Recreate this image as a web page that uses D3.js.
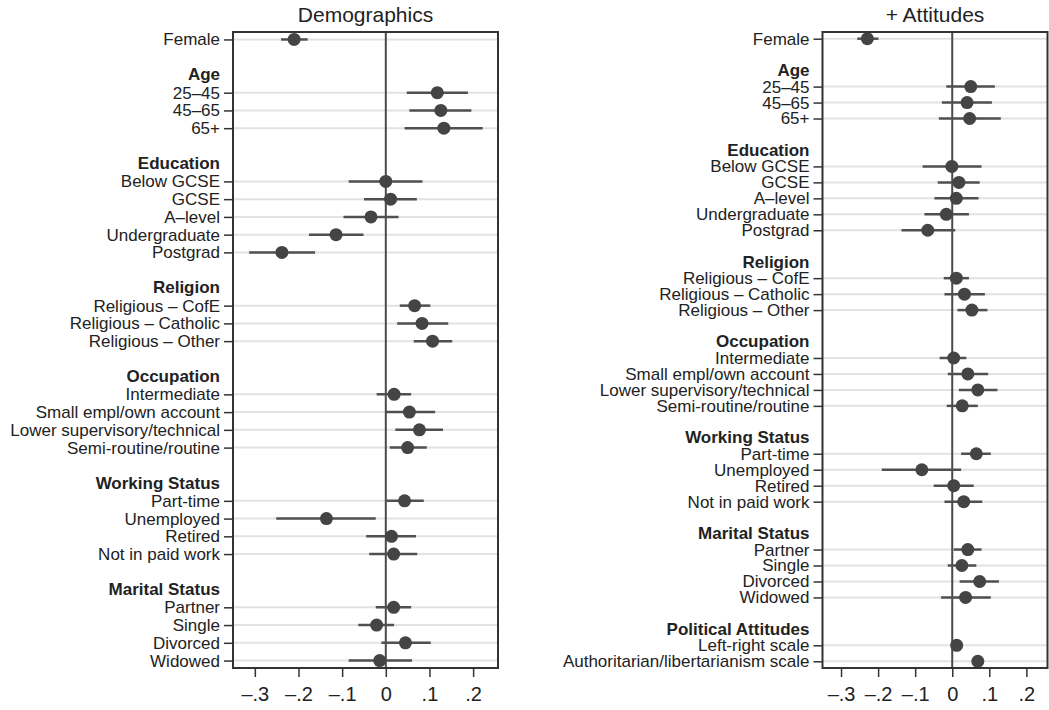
<!DOCTYPE html>
<html>
<head>
<meta charset="utf-8">
<script src="https://cdn.jsdelivr.net/npm/d3@7"></script>
<style>
  body { margin: 0; background: #fff; }
  svg { display: block; font-family: "Liberation Sans", Arial, sans-serif; }
</style>
</head>
<body>
<div id="chart"></div>
<script>
var width = 1049;
var height = 710;

// group headings (first group has no heading) and the variables in each group
const groupTitles = [null, "Age", "Education", "Religion", "Occupation", "Working Status", "Marital Status", "Political Attitudes"];
const groupVars = [
    ["Female"],
    ["25–45", "45–65", "65+"],
    ["Below GCSE", "GCSE", "A–level", "Undergraduate", "Postgrad"],
    ["Religious – CofE", "Religious – Catholic", "Religious – Other"],
    ["Intermediate", "Small empl/own account", "Lower supervisory/technical", "Semi-routine/routine"],
    ["Part-time", "Unemployed", "Retired", "Not in paid work"],
    ["Partner", "Single", "Divorced", "Widowed"],
    ["Left-right scale", "Authoritarian/libertarianism scale"]
];

// Demographics model: estimate, lower and upper CI (24 variables)
const demoEst = [-0.210, 0.118, 0.126, 0.133, 0.000, 0.011, -0.034, -0.114, -0.238, 0.066, 0.083, 0.107,
    0.019, 0.054, 0.077, 0.050, 0.043, -0.136, 0.013, 0.018, 0.018, -0.021, 0.045, -0.014];
const demoLo = [-0.240, 0.048, 0.054, 0.043, -0.085, -0.050, -0.097, -0.176, -0.313, 0.032, 0.026, 0.064,
    -0.021, 0.000, 0.022, 0.009, 0.002, -0.251, -0.045, -0.038, -0.023, -0.063, -0.010, -0.085];
const demoHi = [-0.179, 0.188, 0.196, 0.222, 0.084, 0.071, 0.029, -0.051, -0.162, 0.102, 0.143, 0.152,
    0.058, 0.113, 0.131, 0.094, 0.087, -0.023, 0.069, 0.072, 0.058, 0.019, 0.103, 0.060];

// + Attitudes model (26 variables)
const attEst = [-0.229, 0.050, 0.040, 0.047, -0.001, 0.018, 0.011, -0.016, -0.066, 0.011, 0.033, 0.053,
    0.004, 0.042, 0.069, 0.027, 0.065, -0.082, 0.004, 0.031, 0.042, 0.026, 0.074, 0.036, 0.012, 0.069];
const attLo = [-0.256, -0.016, -0.028, -0.036, -0.080, -0.039, -0.048, -0.075, -0.137, -0.023, -0.021, 0.014,
    -0.034, -0.012, 0.018, -0.015, 0.024, -0.190, -0.050, -0.021, 0.004, -0.012, 0.020, -0.030, 0.004, 0.060];
const attHi = [-0.199, 0.115, 0.107, 0.131, 0.079, 0.074, 0.071, 0.045, 0.008, 0.045, 0.088, 0.095,
    0.038, 0.097, 0.122, 0.069, 0.104, 0.024, 0.058, 0.081, 0.079, 0.065, 0.126, 0.104, 0.020, 0.078];

const xTicks = [-0.3, -0.2, -0.1, 0, 0.1, 0.2];

var svg = d3.select("#chart").append("svg")
    .attr("width", width)
    .attr("height", height);

// turn the groups into a list of rows: variables, headings and blank gaps
function buildRows(nGroups, est, lo, hi) {
    var rows = [];
    var k = 0;
    for (var i = 0; i < nGroups; i++) {
        if (groupTitles[i]) {
            rows.push({ type: "blank" });
            rows.push({ type: "header", label: groupTitles[i] });
        }
        groupVars[i].forEach(function (v) {
            rows.push({ type: "var", label: v, est: est[k], lo: lo[k], hi: hi[k] });
            k++;
        });
    }
    rows.forEach(function (r, i) { r.i = i; });
    return rows;
}

function drawPanel(title, rows, x0, x1) {
    var top = 32, bottom = 668;
    var g = svg.append("g");

    var x = d3.scaleLinear().domain([-0.35, 0.257]).range([x0, x1]);
    var y = d3.scalePoint()
        .domain(d3.range(rows.length))
        .range([top, bottom])
        .padding(0.42);

    var vars = rows.filter(function (d) { return d.type == "var"; });

    //gridlines
    g.selectAll(".grid")
        .data(vars).enter()
        .append("line")
        .attr("x1", x0).attr("x2", x1)
        .attr("y1", function (d) { return y(d.i); })
        .attr("y2", function (d) { return y(d.i); })
        .style("stroke", "#e2e2e2")
        .style("stroke-width", 2);

    //zero line
    g.append("line")
        .attr("x1", x(0)).attr("x2", x(0))
        .attr("y1", top).attr("y2", bottom)
        .style("stroke", "#4a4a4a")
        .style("stroke-width", 2);

    //confidence intervals
    g.selectAll(".ci")
        .data(vars).enter()
        .append("line")
        .attr("x1", function (d) { return x(d.lo); })
        .attr("x2", function (d) { return x(d.hi); })
        .attr("y1", function (d) { return y(d.i); })
        .attr("y2", function (d) { return y(d.i); })
        .style("stroke", "#505050")
        .style("stroke-width", 2.5);

    //point estimates
    g.selectAll(".dot")
        .data(vars).enter()
        .append("circle")
        .attr("cx", function (d) { return x(d.est); })
        .attr("cy", function (d) { return y(d.i); })
        .attr("r", 6.5)
        .style("fill", "#444");

    //frame
    g.append("rect")
        .attr("x", x0).attr("y", top)
        .attr("width", x1 - x0).attr("height", bottom - top)
        .style("fill", "none")
        .style("stroke", "#333")
        .style("stroke-width", 2);

    //y axis with variable labels
    var yAxis = g.append("g")
        .attr("transform", "translate(" + x0 + ",0)")
        .call(d3.axisLeft(y)
            .tickValues(vars.map(function (d) { return d.i; }))
            .tickFormat(function (i) { return rows[i].label; })
            .tickSize(9)
            .tickPadding(4));
    yAxis.select(".domain").remove();
    yAxis.selectAll("line").style("stroke", "#333").style("stroke-width", 1.5);
    yAxis.selectAll("text")
        .style("font-family", "Liberation Sans, Arial, sans-serif")
        .style("font-size", "17px")
        .style("fill", "#222");

    //group headings
    g.selectAll(".header")
        .data(rows.filter(function (d) { return d.type == "header"; })).enter()
        .append("text")
        .attr("x", x0 - 13)
        .attr("y", function (d) { return y(d.i); })
        .attr("dy", "0.32em")
        .style("text-anchor", "end")
        .style("font-size", "17px")
        .style("font-weight", "bold")
        .style("fill", "#222")
        .text(function (d) { return d.label; });

    //x axis
    var xAxis = g.append("g")
        .attr("transform", "translate(0," + bottom + ")")
        .call(d3.axisBottom(x)
            .tickValues(xTicks)
            .tickFormat(function (v) {
                if (v == 0) return "0";
                return (v < 0 ? "–" : "") + "." + Math.round(Math.abs(v) * 10);
            })
            .tickSize(9)
            .tickPadding(10));
    xAxis.select(".domain").remove();
    xAxis.selectAll("line").style("stroke", "#333").style("stroke-width", 1.5);
    xAxis.selectAll("text")
        .style("font-family", "Liberation Sans, Arial, sans-serif")
        .style("font-size", "20px")
        .style("fill", "#222");

    //panel title
    g.append("text")
        .attr("x", (x0 + x1) / 2)
        .attr("y", 22)
        .style("text-anchor", "middle")
        .style("font-size", "21px")
        .style("fill", "#222")
        .text(title);
}

drawPanel("Demographics", buildRows(7, demoEst, demoLo, demoHi), 233, 498);
drawPanel("+ Attitudes", buildRows(8, attEst, attLo, attHi), 822.5, 1047.5);
</script>
</body>
</html>
